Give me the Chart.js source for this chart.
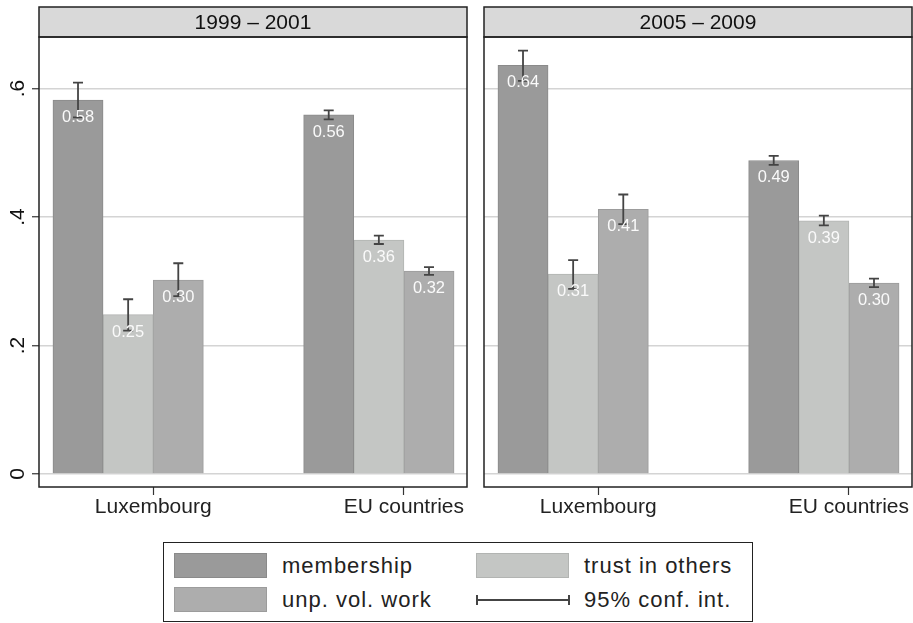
<!DOCTYPE html>
<html>
<head>
<meta charset="utf-8">
<title>Membership, trust and volunteering</title>
<script src="https://cdn.jsdelivr.net/npm/chart.js@4.4.1/dist/chart.umd.min.js"></script>
<style>
  body { margin: 0; background: #fff; font-family: "Liberation Sans", Arial, Helvetica, sans-serif; }
  #wrap { position: relative; width: 913px; height: 623px; overflow: hidden; }
  #wrap canvas { position: absolute; top: 0; }
  #left { left: 0; }
  #right { left: 445px; }
  #legend { position: absolute; left: 163px; top: 542px; width: 590px; height: 80px;
            border: 1.5px solid #222; box-sizing: border-box; color: #222;
            font-size: 22px; letter-spacing: 1px; }
  .key { position: absolute; width: 93px; height: 25px; box-sizing: border-box; border: 1px solid; }
  .ci { position: absolute; width: 94px; height: 10px; box-sizing: border-box;
        border-left: 2px solid #444; border-right: 2px solid #444;
        background: linear-gradient(#444, #444) center / 100% 2px no-repeat; }
  .lab { position: absolute; line-height: 25px; white-space: nowrap; }
</style>
</head>
<body>
<div id="wrap">
  <canvas id="left" width="468" height="530"></canvas>
  <canvas id="right" width="468" height="530"></canvas>
  <div id="legend"></div>
</div>
<script>
const periods = ['1999 \u2013 2001', '2005 \u2013 2009'];
const groups = ['Luxembourg', 'EU countries'];
const series = ['membership', 'trust in others', 'unp. vol. work'];

// shares per group: [Luxembourg, EU countries]
const membership9901 = [0.582, 0.559];
const trust9901 = [0.248, 0.364];
const volWork9901 = [0.302, 0.316];
const membership0509 = [0.636, 0.488];
const trust0509 = [0.311, 0.394];
const volWork0509 = [0.412, 0.297];

// 95% confidence bounds
const membershipLo9901 = [0.555, 0.552];
const membershipHi9901 = [0.609, 0.566];
const trustLo9901 = [0.223, 0.358];
const trustHi9901 = [0.272, 0.371];
const volWorkLo9901 = [0.277, 0.310];
const volWorkHi9901 = [0.328, 0.322];
const membershipLo0509 = [0.612, 0.481];
const membershipHi0509 = [0.659, 0.495];
const trustLo0509 = [0.288, 0.387];
const trustHi0509 = [0.333, 0.402];
const volWorkLo0509 = [0.389, 0.291];
const volWorkHi0509 = [0.435, 0.304];

const yTicks = [0, 0.2, 0.4, 0.6];
const yTickLabels = ['0', '.2', '.4', '.6'];

const fills = ['#9a9a9a', '#c4c6c4', '#adadad'];
const edges = ['#8a8a8a', '#b2b4b2', '#9c9c9c'];
const FONT = '"Liberation Sans", Arial, Helvetica, sans-serif';
const STRIDE = series.length + 2;   // bar slots per group incl. the gap

Chart.defaults.font.family = FONT;

const panelFrame = {
  id: 'panelFrame',
  afterDatasetsDraw(chart) {
    const ctx = chart.ctx;
    const y = chart.scales.y;
    ctx.save();
    // confidence intervals
    ctx.strokeStyle = '#444';
    ctx.lineWidth = 1.8;
    chart.data.datasets.forEach((ds, i) => {
      chart.getDatasetMeta(i).data.forEach((bar, j) => {
        const top = y.getPixelForValue(ds.hi[j]);
        const bot = y.getPixelForValue(ds.lo[j]);
        ctx.beginPath();
        ctx.moveTo(bar.x, top); ctx.lineTo(bar.x, bot);
        ctx.moveTo(bar.x - 5, top); ctx.lineTo(bar.x + 5, top);
        ctx.moveTo(bar.x - 5, bot); ctx.lineTo(bar.x + 5, bot);
        ctx.stroke();
      });
    });
    // value labels inside the bar tops
    ctx.fillStyle = '#fafafa';
    ctx.font = '16.5px ' + FONT;
    ctx.textAlign = 'center';
    ctx.textBaseline = 'alphabetic';
    chart.data.datasets.forEach((ds, i) => {
      chart.getDatasetMeta(i).data.forEach((bar, j) => {
        ctx.fillText(ds.data[j].y.toFixed(2), bar.x, bar.y + 22);
      });
    });
    ctx.restore();
  },
  afterDraw(chart, args, opts) {
    const {ctx, chartArea: a} = chart;
    ctx.save();
    ctx.fillStyle = '#d9d9d9';
    ctx.fillRect(a.left, 7, a.right - a.left, a.top - 7);
    ctx.strokeStyle = '#222';
    ctx.lineWidth = 1.5;
    ctx.strokeRect(a.left, 7, a.right - a.left, a.top - 7);
    ctx.strokeRect(a.left, a.top, a.right - a.left, a.bottom - a.top);
    ctx.fillStyle = '#111';
    ctx.font = '21px ' + FONT;
    ctx.textAlign = 'center';
    ctx.textBaseline = 'alphabetic';
    ctx.fillText(opts.title, (a.left + a.right) / 2, 28.5);
    if (opts.yLabels) {
      const y = chart.scales.y;
      y.ticks.forEach((t, i) => {
        ctx.save();
        ctx.translate(23.5, y.getPixelForValue(t.value));
        ctx.rotate(-Math.PI / 2);
        ctx.fillText(yTickLabels[i], 0, 0);
        ctx.restore();
      });
    }
    ctx.restore();
  }
};

function makePanel(id, title, values, lows, highs, yLabels) {
  return new Chart(document.getElementById(id), {
    type: 'bar',
    data: {
      datasets: series.map((name, s) => ({
        label: name,
        data: groups.map((g, gi) => ({ x: gi * STRIDE + s, y: values[s][gi] })),
        lo: lows[s],
        hi: highs[s],
        backgroundColor: fills[s],
        borderColor: edges[s],
        borderWidth: 1,
        grouped: false,
        barPercentage: 1,
        categoryPercentage: 1
      }))
    },
    options: {
      responsive: false,
      animation: false,
      events: [],
      layout: { padding: { top: 37, right: 1, left: 0, bottom: 0 } },
      scales: {
        x: {
          type: 'linear',
          offset: false,
          min: -0.778,
          max: 7.758,
          afterBuildTicks: s => { s.ticks = groups.map((g, gi) => ({ value: gi * STRIDE + 1.5 })); },
          afterFit: s => { s.height = 43; },
          ticks: {
            callback: (v, i) => groups[i],
            color: '#222',
            font: { size: 21 },
            padding: 0,
            autoSkip: false,
            maxRotation: 0
          },
          grid: { offset: false, drawOnChartArea: false, tickLength: 8, tickColor: '#333', tickWidth: 1.2 },
          border: { display: false }
        },
        y: {
          min: -13 / 642.5,
          max: 437 / 642.5,
          afterBuildTicks: s => { s.ticks = yTicks.map(v => ({ value: v })); },
          afterFit: s => { s.width = 39; },
          ticks: { display: false },
          grid: {
            color: '#d4d4d4',
            lineWidth: 1.5,
            drawTicks: yLabels,
            tickLength: 7,
            tickColor: '#333',
            tickWidth: 1.2
          },
          border: { display: false }
        }
      },
      plugins: {
        legend: { display: false },
        tooltip: { enabled: false },
        panelFrame: { title: title, yLabels: yLabels }
      }
    },
    plugins: [panelFrame]
  });
}

makePanel('left', periods[0],
  [membership9901, trust9901, volWork9901],
  [membershipLo9901, trustLo9901, volWorkLo9901],
  [membershipHi9901, trustHi9901, volWorkHi9901], true);

makePanel('right', periods[1],
  [membership0509, trust0509, volWork0509],
  [membershipLo0509, trustLo0509, volWorkLo0509],
  [membershipHi0509, trustHi0509, volWorkHi0509], false);

// shared legend: two columns, two rows
const legend = document.getElementById('legend');
const cells = [
  { text: series[0], col: 0, row: 0, fill: 0 },
  { text: series[1], col: 1, row: 0, fill: 1 },
  { text: series[2], col: 0, row: 1, fill: 2 },
  { text: '95% conf. int.', col: 1, row: 1, fill: -1 }
];
cells.forEach(c => {
  const left = 10 + c.col * 302;
  const top = 10 + c.row * 34;
  const key = document.createElement('div');
  if (c.fill >= 0) {
    key.className = 'key';
    key.style.background = fills[c.fill];
    key.style.borderColor = edges[c.fill];
    key.style.top = top + 'px';
  } else {
    key.className = 'ci';
    key.style.top = (top + 7.5) + 'px';
  }
  key.style.left = left + 'px';
  legend.appendChild(key);
  const lab = document.createElement('div');
  lab.className = 'lab';
  lab.textContent = c.text;
  lab.style.left = (left + 108) + 'px';
  lab.style.top = top + 'px';
  legend.appendChild(lab);
});
</script>
</body>
</html>
